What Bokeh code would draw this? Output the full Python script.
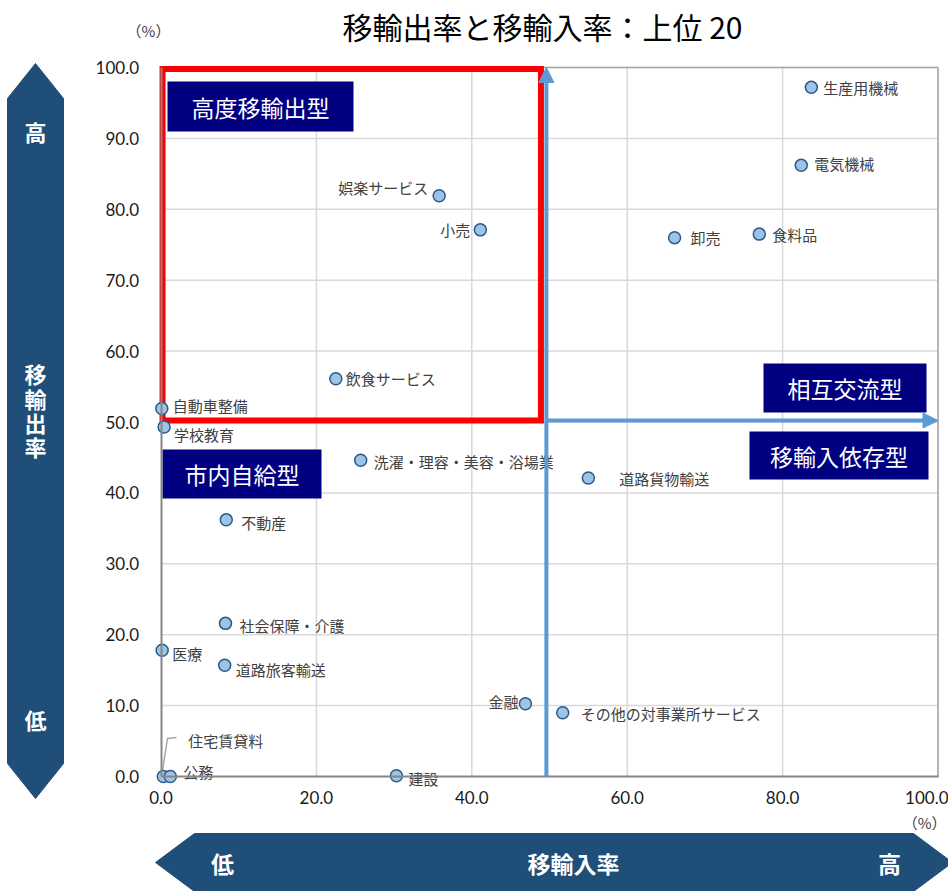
from bokeh.plotting import figure
from bokeh.models import (ColumnDataSource, Range1d, LinearAxis, FixedTicker,
                          PrintfTickFormatter, Arrow, NormalHead)
from bokeh.core.properties import value
from bokeh.embed import file_html
from bokeh.resources import INLINE

# ---------------- data ----------------
industries = ["生産用機械", "電気機械", "食料品", "卸売", "娯楽サービス", "小売",
              "飲食サービス", "自動車整備", "学校教育", "洗濯・理容・美容・浴場業",
              "道路貨物輸送", "不動産", "社会保障・介護", "医療", "道路旅客輸送",
              "金融", "その他の対事業所サービス", "住宅賃貸料", "公務", "建設"]
import_rate = [83.7, 82.4, 77.0, 66.1, 35.8, 41.1, 22.5, 0.1, 0.4, 25.7,
               55.0, 8.4, 8.3, 0.15, 8.2, 46.9, 51.7, 0.3, 1.2, 30.3]
export_rate = [97.2, 86.2, 76.5, 76.0, 81.9, 77.1, 56.1, 51.9, 49.3, 44.6,
               42.1, 36.2, 21.6, 17.8, 15.7, 10.25, 9.0, 0.0, 0.0, 0.1]
x_ticks = [0, 20, 40, 60, 80, 100]
y_ticks = [0, 10, 20, 30, 40, 50, 60, 70, 80, 90, 100]
title_text = "移輸出率と移輸入率：上位 20"
type_labels = ["高度移輸出型", "市内自給型", "相互交流型", "移輸入依存型"]

# ---------------- layout (label placement, px) ----------------
label_dx = [12, 13, 13, 16, -11, -10, 10, 11, 10, 13, 31, 15, 14, 10, 11, -7, 18, 25, 13, 12]
label_dy = [0, -2, 0, 0, -8, 0, 0, -3, 8, 1, 0, 3, 2, 3, 4, -2, 1, -36, -5, 3]
right_aligned = {"娯楽サービス", "小売", "金融"}

W, H = 948, 891
X0_PX, XS = 160.5, 7.77
Y0_PX, YS = 776.0, 7.09


def dx(px):
    return (px - X0_PX) / XS


def dy(py):
    return (Y0_PX - py) / YS


p = figure(width=W, height=H, x_range=Range1d(dx(0), dx(W)), y_range=Range1d(dy(H), dy(0)),
           x_axis_type=None, y_axis_type=None, toolbar_location=None,
           output_backend="svg", min_border=0, outline_line_color=None)
p.background_fill_color = "white"
p.border_fill_color = "white"

CJK = value("Noto Sans CJK JP")
ARROW_C = "#1f4e79"

# big direction arrows (outside plot area)
p.patch([dx(7), dx(35), dx(63), dx(63), dx(35), dx(7)],
        [dy(98), dy(63), dy(98), dy(763), dy(798), dy(763)],
        fill_color=ARROW_C, line_color=ARROW_C)
p.patch([dx(155), dx(194), dx(913), dx(952), dx(913), dx(194)],
        [dy(862), dy(833), dy(833), dy(862), dy(891), dy(891)],
        fill_color=ARROW_C, line_color=ARROW_C)
p.text(x=[dx(35), dx(35), dx(35), dx(35), dx(35), dx(35)],
       y=[dy(130), dy(372), dy(397), dy(421), dy(445), dy(718)],
       text=["高", "移", "輸", "出", "率", "低"], text_font=CJK, text_font_size="22px",
       text_font_style="bold", text_color="white", text_align="center", text_baseline="middle")
p.text(x=[dx(222), dx(573), dx(889)], y=[dy(862)] * 3, text=["低", "移輸入率", "高"],
       text_font=CJK, text_font_size="23px", text_font_style="bold", text_color="white",
       text_align="center", text_baseline="middle")

# title and units
p.text(x=[dx(542)], y=[dy(25)], text=[title_text], text_font=CJK, text_font_size="30px",
       text_color="black", text_align="center", text_baseline="middle")
p.text(x=[dx(148)], y=[dy(30)], text=["（%）"], text_font=CJK,
       text_font_size="15px", text_color="#404040", text_align="center", text_baseline="middle")
p.text(x=[dx(946)], y=[dy(822)], text=["（%）"], text_font=CJK,
       text_font_size="15px", text_color="#404040", text_align="right", text_baseline="middle")

# grid
gx = [t for t in x_ticks if t > 0]
gy = [t for t in y_ticks if t > 0]
p.segment(x0=gx, y0=[0] * len(gx), x1=gx, y1=[100] * len(gx), line_color="#d9d9d9", line_width=1.5)
p.segment(x0=[0] * len(gy), y0=gy, x1=[100] * len(gy), y1=gy, line_color="#d9d9d9", line_width=1.5)
p.segment(x0=[0, 100], y0=[100, 0], x1=[100, 100], y1=[100, 100], line_color="#a6a6a6", line_width=1.5)

# axes
xaxis = LinearAxis(fixed_location=0, bounds=(0, 100), ticker=FixedTicker(ticks=x_ticks),
                   formatter=PrintfTickFormatter(format="%.1f"))
yaxis = LinearAxis(fixed_location=0, bounds=(0, 100), ticker=FixedTicker(ticks=y_ticks),
                   formatter=PrintfTickFormatter(format="%.1f"))
for ax in (xaxis, yaxis):
    ax.axis_line_color = "#868686"
    ax.axis_line_width = 2
    ax.major_tick_line_color = None
    ax.minor_tick_line_color = None
    ax.major_tick_out = 0
    ax.major_tick_in = 0
    ax.major_label_text_font = "Lato"
    ax.major_label_text_font_size = "17px"
    ax.major_label_text_color = "#1a1a1a"
xaxis.major_label_standoff = 14
yaxis.major_label_standoff = 22
p.add_layout(xaxis, "below")
p.add_layout(yaxis, "left")

# red highlight box
p.quad(left=[0.2], right=[48.9], bottom=[50.2], top=[99.8], fill_color=None,
       line_color="#ff0000", line_width=6, line_join="miter")

# blue quadrant arrows
BLUE = "#5b9bd5"
p.add_layout(Arrow(end=NormalHead(size=15, fill_color=BLUE, line_color=BLUE),
                   x_start=49.6, y_start=0, x_end=49.6, y_end=100.0,
                   line_color=BLUE, line_width=4))
p.add_layout(Arrow(end=NormalHead(size=15, fill_color=BLUE, line_color=BLUE),
                   x_start=49.6, y_start=50.2, x_end=100.0, y_end=50.2,
                   line_color=BLUE, line_width=4))

# type boxes
boxes_px = [(167, 353, 81, 131), (162, 321, 449, 498), (763, 926, 363, 412), (749, 928, 431, 479)]
p.quad(left=[dx(b[0]) for b in boxes_px], right=[dx(b[1]) for b in boxes_px],
       top=[dy(b[2]) for b in boxes_px], bottom=[dy(b[3]) for b in boxes_px],
       fill_color="#000080", line_color=None)
p.text(x=[dx((b[0] + b[1]) / 2) for b in boxes_px], y=[dy((b[2] + b[3]) / 2) for b in boxes_px],
       text=type_labels, text_font=CJK, text_font_size="23px", text_color="white",
       text_align="center", text_baseline="middle")

# leader line for 住宅賃貸料
p.line([dx(162), dx(167), dx(176)], [dy(770), dy(738), dy(737)], line_color="#a6a6a6", line_width=1.5)

# points
src = ColumnDataSource(dict(x=import_rate, y=export_rate, name=industries))
p.scatter("x", "y", source=src, size=12, fill_color="#9dc3e6", line_color="#2b5a8a", line_width=1.5)

# point labels
def label_source(right):
    idx = [i for i, n in enumerate(industries) if (n in right_aligned) == right]
    return ColumnDataSource(dict(x=[import_rate[i] for i in idx], y=[export_rate[i] for i in idx],
                                 name=[industries[i] for i in idx],
                                 ox=[label_dx[i] for i in idx], oy=[label_dy[i] for i in idx]))

for right in (False, True):
    p.text("x", "y", text="name", source=label_source(right), x_offset="ox", y_offset="oy",
           text_font=CJK, text_font_size="15px", text_color="#404040",
           text_align="right" if right else "left", text_baseline="middle")

open("out.html", "w").write(file_html(p, INLINE))
